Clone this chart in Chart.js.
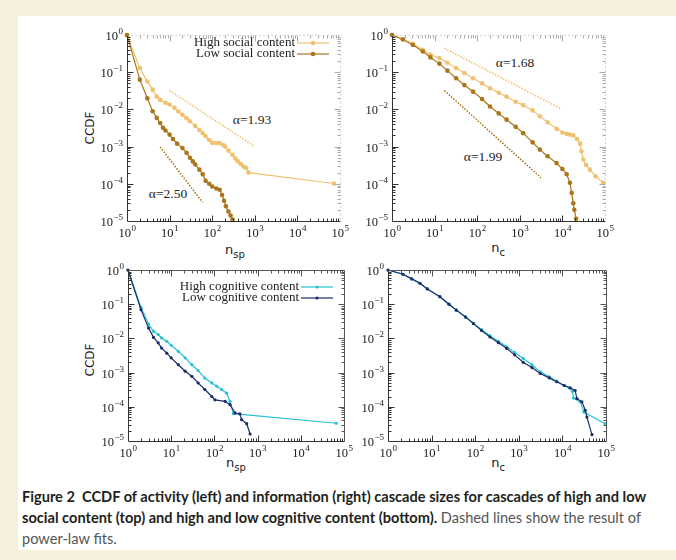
<!DOCTYPE html>
<html>
<head>
<meta charset="utf-8">
<script src="https://cdn.jsdelivr.net/npm/chart.js@4.4.0/dist/chart.umd.min.js"></script>
<style>
  body { margin: 0; width: 676px; height: 560px; overflow: hidden; position: relative; background: #f5efdc; }
  #sheet { position: absolute; left: 18px; top: 16px; width: 658px; height: 534px; background: #fff; }
  canvas { position: absolute; }
  .note { position: absolute; font: 13.5px 'Liberation Serif', serif; color: #222; white-space: nowrap; transform: translate(-50%, -50%); }
  .ttl { position: absolute; font: 13px 'DejaVu Sans', sans-serif; color: #222; white-space: nowrap; transform: translate(-50%, -50%); }
  .ttl sub { font-size: 10px; }
  .rot { transform: translate(-50%, -50%) rotate(-90deg); font-size: 12px; }
  #caption { position: absolute; left: 22px; top: 486px; font: bold 14.6px Lato, sans-serif; line-height: 21px; color: #231f20; white-space: nowrap; }
  #caption span { font-weight: normal; color: #555; }
</style>
</head>
<body>
<div id="sheet"></div>

<div class="ttl rot" style="left:90px;top:128px">CCDF</div>
<div class="ttl rot" style="left:90px;top:360px">CCDF</div>
<div class="ttl" style="left:235px;top:251px">n<sub>sp</sub></div>
<div class="ttl" style="left:498px;top:249px">n<sub>c</sub></div>
<div class="ttl" style="left:236px;top:464px">n<sub>sp</sub></div>
<div class="ttl" style="left:498px;top:464px">n<sub>c</sub></div>

<div class="note" style="left:252px;top:120px">α=1.93</div>
<div class="note" style="left:168px;top:194px">α=2.50</div>
<div class="note" style="left:515px;top:63px">α=1.68</div>
<div class="note" style="left:483px;top:157px">α=1.99</div>

<div id="caption">Figure 2&nbsp; CCDF of activity (left) and information (right) cascade sizes for cascades of high and low<br>social content (top) and high and low cognitive content (bottom). <span>Dashed lines show the result of<br>power-law fits.</span></div>

<script>
// tick positions (powers of ten)
const xTicks = [1, 10, 100, 1000, 10000, 100000];
const yTicks = [1e-5, 1e-4, 1e-3, 1e-2, 1e-1, 1];

// activity cascades n_sp, social content
const spHighSocX = [1, 2, 3, 4, 5, 6, 8, 10, 13, 16, 20, 25, 30, 40, 50, 60, 70, 85, 100, 125, 150, 180, 200, 240, 300, 350, 400, 470, 540, 620, 710, 72000];
const spHighSocY = [1, 0.13, 0.056, 0.034, 0.022, 0.018, 0.015, 0.0135, 0.011, 0.0088, 0.0072, 0.0058, 0.0048, 0.0036, 0.0028, 0.0023, 0.0019, 0.0015, 0.00126, 0.00125, 0.00125, 0.0011, 0.001, 0.00078, 0.0006, 0.00048, 0.0004, 0.00034, 0.00029, 0.00027, 0.0002, 0.000102];
const spLowSocX = [1, 2, 3, 4, 5, 6, 7, 8, 10, 12, 15, 20, 25, 30, 35, 40, 50, 60, 70, 85, 100, 125, 150, 170, 190, 210, 240, 270, 300];
const spLowSocY = [1, 0.063, 0.02, 0.0089, 0.0059, 0.0043, 0.0032, 0.0027, 0.0021, 0.0016, 0.0012, 0.00091, 0.00068, 0.0005, 0.0004, 0.00033, 0.00024, 0.00018, 0.00012, 0.0001, 0.000085, 0.000075, 0.000069, 0.00005, 0.000035, 0.000025, 0.000018, 0.000014, 0.000011];
const spFitHighX = [10, 1000], spFitHighY = [0.032, 0.001];
const spFitLowX = [6, 59], spFitLowY = [0.00098, 0.000032];

// information cascades n_c, social content
const cHighSocX = [1, 1.8, 3.1, 5.3, 8, 13, 20, 32, 50, 80, 130, 200, 320, 490, 800, 1200, 2000, 2950, 4500, 7300, 10000, 12600, 15000, 18000, 22000, 26000, 28000, 31000, 36000, 44000, 60000, 91000];
const cHighSocY = [1, 0.78, 0.58, 0.4, 0.3, 0.24, 0.18, 0.13, 0.095, 0.069, 0.05, 0.037, 0.028, 0.022, 0.016, 0.013, 0.0094, 0.0065, 0.0045, 0.003, 0.0024, 0.0022, 0.0021, 0.002, 0.0016, 0.0012, 0.00075, 0.00045, 0.00032, 0.00024, 0.00016, 0.000107];
const cLowSocX = [1, 1.8, 3.1, 5.3, 8, 13, 20, 32, 50, 80, 130, 200, 320, 490, 800, 1200, 2000, 2950, 4500, 7300, 10000, 12600, 15000, 16500, 18000, 19000, 21000];
const cLowSocY = [1, 0.76, 0.54, 0.36, 0.25, 0.17, 0.11, 0.069, 0.045, 0.03, 0.019, 0.012, 0.0078, 0.0053, 0.0034, 0.0023, 0.0013, 0.00083, 0.00055, 0.00036, 0.00025, 0.00018, 0.000107, 0.000057, 0.00003, 0.00002, 0.0000115];
const cFitHighX = [17, 9600], cFitHighY = [0.44, 0.0102];
const cFitLowX = [17, 3150], cFitLowY = [0.032, 0.000145];

// activity cascades n_sp, cognitive content
const spHighCogX = [1, 2, 3, 3.9, 5, 6, 7.9, 10, 14.6, 21, 30, 42, 60, 87, 113, 147, 192, 230, 275, 66000];
const spHighCogY = [1, 0.081, 0.026, 0.016, 0.013, 0.0103, 0.0082, 0.0063, 0.0042, 0.0027, 0.0017, 0.00115, 0.00069, 0.0005, 0.0004, 0.00032, 0.00025, 0.000145, 0.000063, 0.000033];
const spLowCogX = [1, 2, 3, 3.9, 5, 6, 7.9, 10, 14.6, 21, 30, 42, 60, 87, 103, 177, 230, 300, 390, 427, 560, 670];
const spLowCogY = [1, 0.069, 0.02, 0.0107, 0.0074, 0.0052, 0.0037, 0.0027, 0.0017, 0.0011, 0.00078, 0.0005, 0.00032, 0.0002, 0.00016, 0.000145, 0.000115, 0.000066, 0.000062, 0.000042, 0.000032, 0.000016];

// information cascades n_c, cognitive content
const cHighCogX = [1, 2.2, 3.5, 5.4, 8, 15.5, 25, 37, 60, 91, 140, 218, 340, 530, 800, 1260, 2000, 3100, 5000, 7400, 11000, 15000, 17000, 18000, 25700, 31000, 96000];
const cHighCogY = [1, 0.75, 0.55, 0.41, 0.28, 0.166, 0.1, 0.067, 0.043, 0.028, 0.018, 0.012, 0.0082, 0.0057, 0.0039, 0.0026, 0.0017, 0.00105, 0.00075, 0.00056, 0.00042, 0.00034, 0.00028, 0.00018, 0.00014, 0.00007, 0.000032];
const cLowCogX = [1, 2.2, 3.5, 5.4, 8, 15.5, 25, 37, 60, 91, 140, 218, 340, 530, 800, 1260, 2000, 3100, 5000, 7400, 11000, 15000, 19600, 21500, 28000, 33500, 36500, 47600];
const cLowCogY = [1, 0.75, 0.55, 0.41, 0.28, 0.166, 0.1, 0.067, 0.042, 0.027, 0.017, 0.011, 0.0075, 0.0051, 0.0033, 0.002, 0.0014, 0.00094, 0.0007, 0.00054, 0.00042, 0.00036, 0.0003, 0.000174, 0.00014, 0.000079, 0.00005, 0.0000154];

const LIGHT = '#efc170', DARK = '#a9761c', CYAN = '#27c2d4', NAVY = '#1b2d6b';
const BASE_FONT = '12.5px "Liberation Serif", serif';
const EXP_FONT = '9px "Liberation Serif", serif';

function pts(xs, ys) {
  return xs.map((v, i) => ({ x: v, y: ys[i] }));
}

function series(xs, ys, color, r, order) {
  return {
    data: pts(xs, ys), borderColor: color, backgroundColor: color,
    borderWidth: 1.2, pointRadius: r, pointBorderWidth: 0, pointHoverRadius: r,
    order: order, clip: 4
  };
}

function fit(xs, ys, color) {
  return {
    data: pts(xs, ys), borderColor: color, borderWidth: 1.6,
    borderDash: [1.5, 1.5], pointRadius: 0, order: 5
  };
}

// gnuplot-like box with inward ticks
const framePlugin = {
  id: 'frame',
  afterDatasetsDraw(chart, args, opts) {
    const { ctx, chartArea: a } = chart;
    const x = chart.scales.x, y = chart.scales.y;
    const L = a.left + 0.5, R = a.right + 0.5, T = a.top + 0.5, B = a.bottom + 0.5;
    const xm = [], ym = [];
    for (let d = 0; d < 5; d++) for (let m = 2; m < 10; m++) xm.push(m * Math.pow(10, d));
    for (let d = -5; d < 0; d++) for (let m = 2; m < 10; m++) ym.push(m * Math.pow(10, d));
    const far = opts.faint ? '#aaa' : '#555';
    ctx.save();
    ctx.lineWidth = 1;

    ctx.strokeStyle = '#333';
    ctx.beginPath();
    ctx.moveTo(L, T); ctx.lineTo(L, B); ctx.lineTo(R, B);
    ctx.stroke();

    ctx.strokeStyle = far;
    if (opts.faint) ctx.setLineDash([1, 3]);
    ctx.beginPath();
    ctx.moveTo(L, T); ctx.lineTo(R, T); ctx.lineTo(R, B);
    ctx.stroke();
    ctx.setLineDash([]);

    const tickX = (vals, len) => {
      vals.forEach(v => {
        const px = Math.round(x.getPixelForValue(v)) + 0.5;
        if (px <= L + 1 || px >= R - 1) return;
        ctx.strokeStyle = '#333';
        ctx.beginPath(); ctx.moveTo(px, B); ctx.lineTo(px, B - len); ctx.stroke();
        ctx.strokeStyle = far;
        ctx.beginPath(); ctx.moveTo(px, T); ctx.lineTo(px, T + len); ctx.stroke();
      });
    };
    const tickY = (vals, len) => {
      vals.forEach(v => {
        const py = Math.round(y.getPixelForValue(v)) + 0.5;
        if (py <= T + 1 || py >= B - 1) return;
        ctx.strokeStyle = '#333';
        ctx.beginPath(); ctx.moveTo(L, py); ctx.lineTo(L + len, py); ctx.stroke();
        ctx.strokeStyle = far;
        ctx.beginPath(); ctx.moveTo(R, py); ctx.lineTo(R - len, py); ctx.stroke();
      });
    };
    tickX(xm, 3); tickX(xTicks, 6);
    tickY(ym, 3); tickY(yTicks, 6);
    ctx.restore();
  }
};

// 10^n labels with a raised exponent, placed with the chart's scales
const powPlugin = {
  id: 'pow',
  afterDraw(chart) {
    const { ctx, chartArea: a } = chart;
    const x = chart.scales.x, y = chart.scales.y;
    ctx.save();
    ctx.fillStyle = '#1a1a1a';
    ctx.textBaseline = 'alphabetic';
    ctx.textAlign = 'left';
    const widths = e => {
      ctx.font = BASE_FONT; const w1 = ctx.measureText('10').width;
      ctx.font = EXP_FONT; const w2 = ctx.measureText(e).width;
      return [w1, w2];
    };
    xTicks.forEach(v => {
      const e = String(Math.round(Math.log10(v)));
      const [w1, w2] = widths(e);
      const left = x.getPixelForValue(v) - (w1 + w2) / 2;
      ctx.font = BASE_FONT; ctx.fillText('10', left, a.bottom + 16);
      ctx.font = EXP_FONT; ctx.fillText(e, left + w1 + 0.5, a.bottom + 10);
    });
    yTicks.forEach(v => {
      const e = String(Math.round(Math.log10(v))).replace('-', '\u2212');
      const [w1, w2] = widths(e);
      const py = y.getPixelForValue(v);
      const left = a.left - 4 - w2 - 0.5 - w1;
      ctx.font = BASE_FONT; ctx.fillText('10', left, py + 5);
      ctx.font = EXP_FONT; ctx.fillText(e, left + w1 + 0.5, py - 1);
    });
    ctx.restore();
  }
};

// key drawn inside the box, sample line to the right of the text
const keyPlugin = {
  id: 'key',
  afterDatasetsDraw(chart, args, opts) {
    if (!opts.items) return;
    const { ctx, chartArea: a } = chart;
    ctx.save();
    opts.items.forEach((it, i) => {
      const yy = a.top + opts.top + i * opts.gap;
      ctx.fillStyle = '#222';
      ctx.font = '13px "Liberation Serif", serif';
      ctx.textAlign = 'right';
      ctx.textBaseline = 'middle';
      ctx.fillText(it.text, a.right - 45, yy);
      ctx.strokeStyle = it.color;
      ctx.lineWidth = 1.2;
      ctx.beginPath(); ctx.moveTo(a.right - 43, yy); ctx.lineTo(a.right - 11, yy); ctx.stroke();
      ctx.fillStyle = it.color;
      ctx.beginPath(); ctx.arc(a.right - 27, yy, it.r, 0, Math.PI * 2); ctx.fill();
    });
    ctx.restore();
  }
};

function panel(box, datasets, key, faint) {
  const c = document.createElement('canvas');
  const padL = 50, padT = 12, padR = 14, padB = 22;
  c.width = (box.r - box.l) + padL + padR;
  c.height = (box.b - box.t) + padT + padB;
  c.style.left = (box.l - padL) + 'px';
  c.style.top = (box.t - padT) + 'px';
  document.body.appendChild(c);

  new Chart(c.getContext('2d'), {
    type: 'line',
    data: { datasets: datasets },
    plugins: [framePlugin, powPlugin, keyPlugin],
    options: {
      responsive: false,
      devicePixelRatio: 1,
      animation: false,
      layout: { padding: { left: 0, top: padT, right: padR, bottom: 0 } },
      plugins: {
        legend: { display: false },
        tooltip: { enabled: false },
        frame: { faint: faint },
        key: key
      },
      scales: {
        x: {
          type: 'logarithmic', min: 1, max: 100000,
          grid: { display: false }, border: { display: false },
          afterBuildTicks: s => { s.ticks = xTicks.map(v => ({ value: v })); },
          afterFit: s => { s.height = padB; },
          ticks: { display: false }
        },
        y: {
          type: 'logarithmic', min: 1e-5, max: 1,
          grid: { display: false }, border: { display: false },
          afterBuildTicks: s => { s.ticks = yTicks.map(v => ({ value: v })); },
          afterFit: s => { s.width = padL; },
          ticks: { display: false }
        }
      }
    }
  });
}

panel({ l: 127, t: 35, r: 340, b: 221 }, [
  fit(spFitHighX, spFitHighY, LIGHT),
  fit(spFitLowX, spFitLowY, DARK),
  series(spHighSocX, spHighSocY, LIGHT, 2.3, 2),
  series(spLowSocX, spLowSocY, DARK, 2.3, 1)
], { top: 8, gap: 11, items: [
  { text: 'High social content', color: LIGHT, r: 2.3 },
  { text: 'Low social content', color: DARK, r: 2.3 }
] }, true);

panel({ l: 392, t: 35, r: 605, b: 221 }, [
  fit(cFitHighX, cFitHighY, LIGHT),
  fit(cFitLowX, cFitLowY, DARK),
  series(cHighSocX, cHighSocY, LIGHT, 2.3, 2),
  series(cLowSocX, cLowSocY, DARK, 2.3, 1)
], {}, true);

panel({ l: 128, t: 270, r: 344, b: 441 }, [
  series(spHighCogX, spHighCogY, CYAN, 1.6, 2),
  series(spLowCogX, spLowCogY, NAVY, 1.6, 1)
], { top: 17, gap: 11, items: [
  { text: 'High cognitive content', color: CYAN, r: 1.6 },
  { text: 'Low cognitive content', color: NAVY, r: 1.6 }
] }, false);

panel({ l: 388, t: 270, r: 606, b: 441 }, [
  series(cHighCogX, cHighCogY, CYAN, 1.6, 2),
  series(cLowCogX, cLowCogY, NAVY, 1.6, 1)
], {}, false);
</script>
</body>
</html>
